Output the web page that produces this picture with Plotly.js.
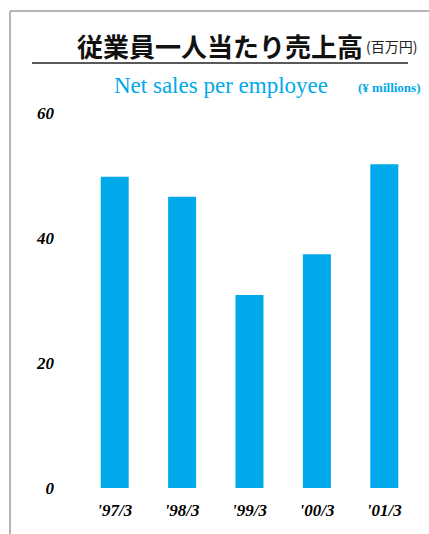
<!DOCTYPE html>
<html>
<head>
<meta charset="utf-8">
<script src="https://cdn.plot.ly/plotly-3.0.1.min.js"></script>
<style>html,body{margin:0;padding:0;background:#fff;}#chart{width:429px;height:534px;}</style>
</head>
<body>
<div id="chart"></div>
<script>
const categories = ["'97/3", "'98/3", "'99/3", "'00/3", "'01/3"];
const salesPerEmployee = [49.8, 46.6, 30.9, 37.4, 51.8];
const yTickValues = [0, 20, 40, 60];
const titleJa = "従業員一人当たり売上高";
const unitJa = "(百万円)";
const titleEn = "Net sales per employee";
const unitEn = "(¥ millions)";

const W = 429, H = 534, L = 81, R = 11, T = 113, B = 46;
const pw = W - L - R, ph = H - T - B;
const px = x => (x - L) / pw;
const py = y => (H - B - y) / ph;

const cyan = "#00A9E9";
const serif = "Liberation Serif, DejaVu Serif, serif";

const data = [{
  type: "bar",
  x: categories,
  y: salesPerEmployee,
  width: 0.415,
  marker: {color: cyan},
  hoverinfo: "none"
}];

const layout = {
  width: W, height: H,
  margin: {l: L, r: R, t: T, b: B, pad: 0},
  paper_bgcolor: "#fff", plot_bgcolor: "#fff",
  showlegend: false,
  xaxis: {
    type: "category",
    range: [-0.5, 4.5],
    showgrid: false, zeroline: false, showline: false,
    ticks: "",
    ticklabelstandoff: 10,
    tickfont: {family: serif, size: 17, color: "#000", weight: "bold", style: "italic"},
    fixedrange: true
  },
  yaxis: {
    range: [0, 60],
    tickvals: yTickValues,
    ticktext: yTickValues.map(String),
    showgrid: false, zeroline: false, showline: false,
    ticks: "",
    ticklabelstandoff: 26,
    tickfont: {family: serif, size: 17, color: "#000", weight: "bold", style: "italic"},
    fixedrange: true
  },
  shapes: [
    {type: "line", xref: "paper", yref: "paper", x0: px(10), x1: px(10), y0: py(11), y1: py(534), line: {color: "#b5b5b5", width: 2}},
    {type: "line", xref: "paper", yref: "paper", x0: px(10), x1: px(429), y0: py(11), y1: py(11), line: {color: "#b5b5b5", width: 2}},
    {type: "line", xref: "paper", yref: "paper", x0: px(32), x1: px(408), y0: py(63), y1: py(63), line: {color: "#222", width: 1.5}}
  ],
  annotations: [
    {xref: "paper", yref: "paper", x: px(220), y: py(45), xanchor: "center", yanchor: "middle", showarrow: false,
     text: "<b>" + titleJa + "</b>", font: {family: "Noto Sans CJK JP, sans-serif", size: 26, color: "#111"}},
    {xref: "paper", yref: "paper", x: px(391), y: py(46), xanchor: "center", yanchor: "middle", showarrow: false,
     text: unitJa, font: {family: "Noto Sans CJK JP, sans-serif", size: 14, color: "#222"}},
    {xref: "paper", yref: "paper", x: px(221), y: py(86), xanchor: "center", yanchor: "middle", showarrow: false,
     text: titleEn, font: {family: serif, size: 23, color: cyan}},
    {xref: "paper", yref: "paper", x: px(389), y: py(87), xanchor: "center", yanchor: "middle", showarrow: false,
     text: "<b>" + unitEn + "</b>", font: {family: serif, size: 13, color: cyan}}
  ]
};

Plotly.newPlot("chart", data, layout, {displayModeBar: false, staticPlot: true});
</script>
</body>
</html>
